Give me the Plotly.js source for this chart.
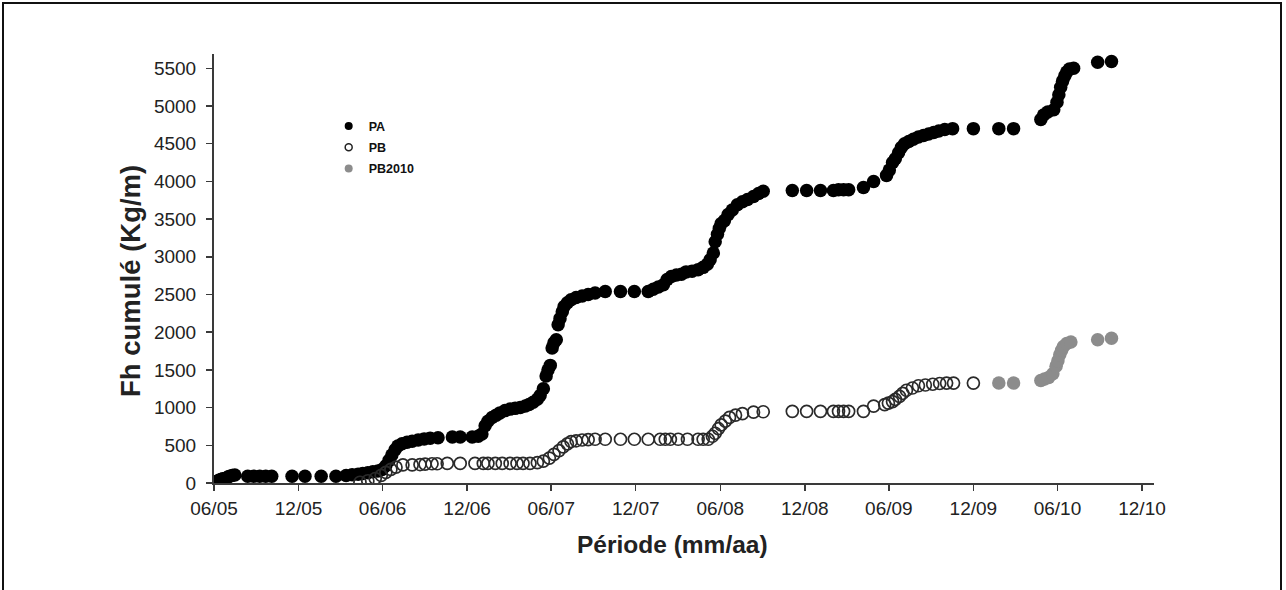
<!DOCTYPE html>
<html>
<head>
<meta charset="utf-8">
<script src="https://cdn.plot.ly/plotly-3.0.1.min.js"></script>
<style>
  html, body { margin: 0; padding: 0; background: #ffffff; }
  #wrap { position: relative; width: 1286px; height: 590px; overflow: hidden; }
  #frame { position: absolute; left: 2px; top: 2px; width: 1280px; height: 620px; border: 2px solid #111; box-sizing: border-box; pointer-events: none; }
  #chart { position: absolute; left: 0; top: 0; width: 1286px; height: 590px; }
</style>
</head>
<body>
<div id="wrap">
  <div id="chart"></div>
  <div id="frame"></div>
</div>
<script>
// ---- Data ----
const paDates = [
  '2005-06-07','2005-06-11','2005-06-16','2005-06-20','2005-06-25','2005-06-29','2005-07-03','2005-07-10','2005-07-16',
  '2005-08-13','2005-08-26','2005-09-08','2005-09-21','2005-10-04','2005-11-17','2005-12-15',
  '2006-01-19','2006-02-20','2006-03-14','2006-03-27','2006-04-09','2006-04-19','2006-04-30','2006-05-11','2006-05-22','2006-05-31',
  '2006-06-08','2006-06-15','2006-06-21','2006-06-28','2006-07-04','2006-07-13','2006-07-24','2006-08-04','2006-08-17','2006-08-30',
  '2006-09-12','2006-09-29','2006-10-30','2006-11-16','2006-12-12','2006-12-25',
  '2007-01-02','2007-01-09','2007-01-15','2007-01-24','2007-02-02','2007-02-10','2007-02-21','2007-03-04','2007-03-15','2007-03-26',
  '2007-04-06','2007-04-14','2007-04-23','2007-05-02','2007-05-08','2007-05-15','2007-05-21','2007-05-25','2007-05-30',
  '2007-06-03','2007-06-07','2007-06-12','2007-06-16','2007-06-20','2007-06-25','2007-06-29','2007-07-06','2007-07-14','2007-07-25',
  '2007-08-07','2007-08-20','2007-09-04','2007-09-26','2007-10-29','2007-11-28','2007-12-28',
  '2008-01-08','2008-01-19','2008-01-30','2008-02-07','2008-02-16','2008-02-27','2008-03-09','2008-03-19','2008-04-01','2008-04-14',
  '2008-04-25','2008-05-04','2008-05-10','2008-05-17','2008-05-21','2008-05-26','2008-05-30','2008-06-03','2008-06-10','2008-06-18',
  '2008-06-27','2008-07-08','2008-07-19','2008-07-30','2008-08-12','2008-08-23','2008-09-02','2008-11-04','2008-12-05',
  '2009-01-04','2009-02-01','2009-02-12','2009-02-23','2009-03-06','2009-04-07','2009-04-29','2009-05-27','2009-06-02','2009-06-09',
  '2009-06-15','2009-06-22','2009-06-28','2009-07-05','2009-07-14','2009-07-24','2009-08-04','2009-08-15','2009-08-26','2009-09-06',
  '2009-09-17','2009-09-30','2009-10-17','2009-12-01',
  '2010-01-25','2010-02-26','2010-04-26','2010-05-02','2010-05-11','2010-05-24','2010-05-31','2010-06-04','2010-06-08','2010-06-12',
  '2010-06-17','2010-06-21','2010-06-27','2010-07-06','2010-08-27','2010-09-26'
];
const paValues = [
  20,35,45,55,60,70,85,100,105,
  90,90,90,90,90,90,90,
  90,90,100,110,115,125,135,150,160,180,
  230,300,370,440,490,520,540,555,570,585,
  595,600,610,610,610,620,
  650,760,820,870,900,930,960,980,990,1000,
  1020,1040,1070,1110,1160,1250,1420,1500,1560,
  1790,1860,1900,2100,2180,2270,2340,2390,2430,2460,
  2480,2500,2520,2540,2540,2540,2540,
  2570,2600,2630,2700,2740,2760,2770,2800,2810,2830,
  2860,2900,2960,3050,3200,3300,3380,3440,3480,3560,
  3620,3690,3730,3760,3800,3840,3870,3880,3880,
  3880,3880,3890,3890,3890,3920,4000,4080,4150,4250,
  4300,4380,4450,4500,4530,4560,4590,4610,4630,4650,
  4670,4690,4700,4700,
  4700,4700,4820,4880,4920,4950,5050,5150,5250,5330,
  5400,5450,5490,5500,5580,5590
];

const pbDates = [
  '2006-04-13','2006-04-30','2006-05-16','2006-05-29','2006-06-08','2006-06-19','2006-06-30','2006-07-15','2006-08-04','2006-08-21',
  '2006-09-01','2006-09-16','2006-09-27','2006-10-19','2006-11-16','2006-12-18',
  '2007-01-05','2007-01-15','2007-01-31','2007-02-15','2007-03-04','2007-03-19','2007-04-01','2007-04-16','2007-05-02','2007-05-15',
  '2007-05-28','2007-06-07','2007-06-18','2007-06-27','2007-07-06','2007-07-14','2007-07-25','2007-08-07','2007-08-20','2007-09-04',
  '2007-09-26','2007-10-29','2007-11-28','2007-12-28',
  '2008-01-23','2008-02-03','2008-02-14','2008-03-02','2008-03-22','2008-04-14','2008-04-25','2008-05-06','2008-05-15','2008-05-21',
  '2008-05-28','2008-06-03','2008-06-12','2008-06-21','2008-07-04','2008-07-19','2008-08-12','2008-09-02','2008-11-04','2008-12-05',
  '2009-01-04','2009-02-01','2009-02-12','2009-02-23','2009-03-06','2009-04-07','2009-04-29','2009-05-23','2009-05-31','2009-06-09',
  '2009-06-15','2009-06-24','2009-07-01','2009-07-09','2009-07-22','2009-08-04','2009-08-19','2009-09-04','2009-09-19','2009-10-04',
  '2009-10-19','2009-12-01'
];
const pbValues = [
  10,30,60,100,140,180,210,240,240,245,
  250,255,255,260,260,260,
  260,260,260,260,260,260,260,260,270,290,
  330,380,430,480,520,550,560,570,575,580,
  580,580,580,580,
  580,580,580,580,580,580,580,580,620,660,
  720,770,820,870,900,920,940,945,950,950,
  950,950,950,950,950,950,1020,1040,1060,1080,
  1110,1150,1190,1230,1260,1290,1300,1310,1320,1325,
  1325,1325
];

const pb2010Dates = [
  '2010-01-25','2010-02-26','2010-04-26','2010-05-04','2010-05-13','2010-05-22','2010-05-29','2010-06-02','2010-06-06','2010-06-10',
  '2010-06-14','2010-06-21','2010-06-30','2010-08-27','2010-09-26'
];
const pb2010Values = [
  1325,1325,1360,1380,1400,1450,1550,1620,1700,1760,
  1810,1850,1870,1900,1920
];

const xTickVals = ['2005-06-01','2005-12-01','2006-06-01','2006-12-01','2007-06-01','2007-12-01',
                   '2008-06-01','2008-12-01','2009-06-01','2009-12-01','2010-06-01','2010-12-01'];
const xTickText = ['06/05','12/05','06/06','12/06','06/07','12/07','06/08','12/08','06/09','12/09','06/10','12/10'];
const yTickVals = [0,500,1000,1500,2000,2500,3000,3500,4000,4500,5000,5500];
const seriesNames = ['PA','PB','PB2010'];
const xTitle = 'Période (mm/aa)';
const yTitle = 'Fh cumulé (Kg/m)';

// ---- Styles ----
const FONT = 'Liberation Sans, Arial, Helvetica, sans-serif';
const AXIS_COLOR = '#3a3a3a';
const GRAY = '#8c8c8c';

const traces = [
  { x: paDates, y: paValues, type: 'scatter', mode: 'markers', name: seriesNames[0], showlegend: false,
    marker: { symbol: 'circle', size: 13.5, color: '#000000', line: { width: 0 } } },
  { x: pbDates, y: pbValues, type: 'scatter', mode: 'markers', name: seriesNames[1], showlegend: false,
    marker: { symbol: 'circle-open', size: 12, color: '#2a2a2a', line: { width: 1.7, color: '#2a2a2a' } } },
  { x: pb2010Dates, y: pb2010Values, type: 'scatter', mode: 'markers', name: seriesNames[2], showlegend: false,
    marker: { symbol: 'circle', size: 13.5, color: GRAY, line: { width: 0 } } },
  // legend-only entries (no data)
  { x: [null], y: [null], type: 'scatter', mode: 'markers', name: seriesNames[0], legendgroup: 'a',
    marker: { symbol: 'circle', size: 8, color: '#000000' } },
  { x: [null], y: [null], type: 'scatter', mode: 'markers', name: seriesNames[1], legendgroup: 'b',
    marker: { symbol: 'circle-open', size: 7, color: '#222', line: { width: 1.5, color: '#222' } } },
  { x: [null], y: [null], type: 'scatter', mode: 'markers', name: seriesNames[2], legendgroup: 'c',
    marker: { symbol: 'circle', size: 8, color: GRAY } }
];

const layout = {
  width: 1286, height: 590,
  margin: { l: 214, r: 132, t: 54, b: 107, pad: 0 },
  paper_bgcolor: 'rgba(0,0,0,0)', plot_bgcolor: 'rgba(0,0,0,0)',
  font: { family: FONT, color: '#222' },
  showlegend: true,
  legend: {
    x: 0.122, y: 0.866, xanchor: 'left', yanchor: 'top',
    bgcolor: 'rgba(0,0,0,0)', borderwidth: 0,
    font: { family: FONT, size: 12.5, color: '#111', weight: 700 },
    itemsizing: 'trace', tracegroupgap: 2, traceorder: 'grouped'
  },
  xaxis: {
    type: 'date',
    range: ['2005-06-01', '2010-12-27'],
    tickmode: 'array', tickvals: xTickVals, ticktext: xTickText,
    ticks: 'outside', ticklen: 6, tickwidth: 1.5, tickcolor: AXIS_COLOR,
    showline: true, linecolor: AXIS_COLOR, linewidth: 2,
    showgrid: false, zeroline: false,
    tickfont: { family: FONT, size: 19, color: '#222' },
    ticklabelstandoff: 1,
    fixedrange: true
  },
  yaxis: {
    range: [0, 5690],
    tickmode: 'array', tickvals: yTickVals,
    ticks: 'outside', ticklen: 6, tickwidth: 1.5, tickcolor: AXIS_COLOR,
    showline: true, linecolor: AXIS_COLOR, linewidth: 2,
    showgrid: false, zeroline: false,
    tickfont: { family: FONT, size: 19, color: '#222' },
    ticklabelstandoff: 6,
    fixedrange: true
  },
  annotations: [
    { text: xTitle, xref: 'paper', yref: 'paper', x: (672 - 214) / 940, y: -(544 - 483) / 429,
      xanchor: 'center', yanchor: 'middle', showarrow: false,
      font: { family: FONT, size: 24.5, color: '#222', weight: 700 } },
    { text: yTitle, xref: 'paper', yref: 'paper', x: (130 - 214) / 940, y: (483 - 281) / 429,
      xanchor: 'center', yanchor: 'middle', showarrow: false, textangle: -90,
      font: { family: FONT, size: 27.5, color: '#222', weight: 700 } }
  ]
};

Plotly.newPlot('chart', traces, layout, { staticPlot: true, displayModeBar: false });
</script>
</body>
</html>
